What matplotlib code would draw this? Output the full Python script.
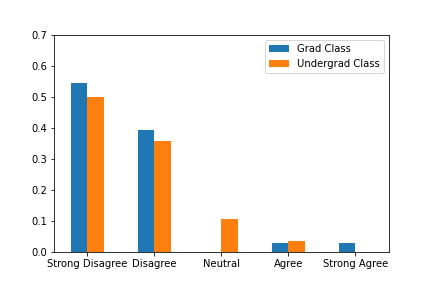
import pandas as pd
import matplotlib
matplotlib.use("Agg")
import matplotlib.pyplot as plt

# Antwortkategorien und Anteile je Gruppe
categories = ['Strong Disagree', 'Disagree', 'Neutral', 'Agree', 'Strong Agree']
grad_share = [0.5455, 0.3939, 0.0, 0.0303, 0.0303]
undergrad_share = [0.5, 0.3571, 0.1071, 0.0357, 0.0]

df = pd.DataFrame({'Grad Class': grad_share,
                   'Undergrad Class': undergrad_share}, index=categories)

fig, ax = plt.subplots(figsize=(6, 4), dpi=72)
fig.subplots_adjust(left=0.125, right=0.9, bottom=0.125, top=0.88)
df.plot.bar(ax=ax, rot=0)
ax.set_ylim(0, 0.7)
ax.legend(loc='upper right')

plt.savefig('out.png', dpi=72)
